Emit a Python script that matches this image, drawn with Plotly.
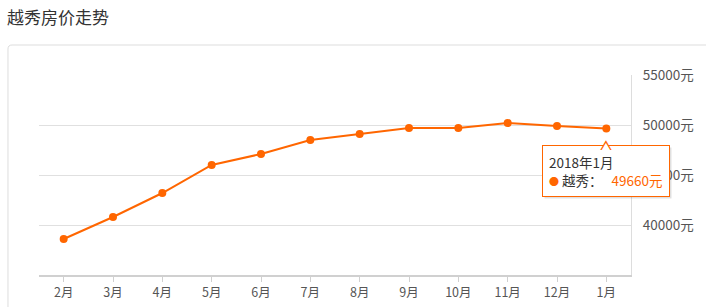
import plotly.graph_objects as go

months = ["2月", "3月", "4月", "5月", "6月", "7月", "8月", "9月", "10月", "11月", "12月", "1月"]
prices = [38600, 40800, 43200, 46000, 47100, 48500, 49100, 49700, 49700, 50200, 49900, 49660]
y_ticks = [40000, 45000, 50000, 55000]
y_tick_labels = ["40000元", "45000元", "50000元", "55000元"]
series_name = "越秀"
tip_title = "2018年1月"
title = "越秀房价走势"

ORANGE = "#ff6600"
FONT = "Noto Sans CJK SC, Microsoft YaHei, sans-serif"

fig = go.Figure()
fig.add_trace(go.Scatter(
    x=list(range(len(months))), y=prices, mode="lines+markers",
    line=dict(color=ORANGE, width=2), marker=dict(color=ORANGE, size=8),
    name=series_name, showlegend=False, hoverinfo="skip"))

# container box
fig.add_shape(type="path",
              path="M -0.0524,-0.4 L -0.0524,1.13 Q -0.0524,1.15 -0.0456,1.15 L 1.3,1.15",
              xref="paper", yref="paper", line=dict(color="#dddddd", width=1), layer="below")

last = len(months) - 1
tip_text = (f"{tip_title}<br><span style='color:{ORANGE};font-size:10px'>●</span> {series_name}："
            f"   <span style='color:{ORANGE}'>{prices[last]}元</span>")
# shadow
fig.add_annotation(
    x=last, y=prices[last], xref="x", yref="y", text=tip_text,
    showarrow=False, align="left", xanchor="center", yanchor="top", yshift=-19, xshift=2,
    bgcolor="rgba(0,0,0,0.12)", bordercolor="rgba(0,0,0,0)", borderwidth=1, borderpad=6,
    font=dict(family=FONT, size=13.5, color="rgba(0,0,0,0)"))
fig.add_annotation(
    x=last, y=prices[last], xref="x", yref="y", text=tip_text,
    showarrow=False, align="left", xanchor="center", yanchor="top", yshift=-17,
    bgcolor="white", bordercolor=ORANGE, borderwidth=1, borderpad=6,
    font=dict(family=FONT, size=13.5, color="#333333"))
fig.add_annotation(
    x=last, y=prices[last], xref="x", yref="y", text="▲", showarrow=False,
    yanchor="top", yshift=-7, font=dict(size=12, color=ORANGE))
fig.add_annotation(
    x=last, y=prices[last], xref="x", yref="y", text="▲", showarrow=False,
    yanchor="top", yshift=-9, font=dict(size=10, color="white"))

fig.update_layout(
    width=706, height=307,
    margin=dict(l=39, r=75, t=75, b=32, autoexpand=False),
    paper_bgcolor="white", plot_bgcolor="white",
    font=dict(family=FONT, size=12, color="#555555"),
    title=dict(text=title, xref="container", x=7 / 706, xanchor="left",
               yref="container", y=1 - 18 / 307, yanchor="middle",
               font=dict(family=FONT, size=17, color="#333333")),
)

fig.update_xaxes(
    range=[-0.5, len(months) - 0.5], tickmode="array",
    tickvals=list(range(len(months))), ticktext=months, automargin=False,
    showgrid=False, zeroline=False, showline=True, linecolor="#d0d0d0", linewidth=2,
    ticks="outside", ticklen=5, tickcolor="#d0d0d0", tickfont=dict(size=12.5, color="#555555"),
    fixedrange=True)
fig.update_yaxes(
    range=[35000, 55000], side="right", tickmode="array", automargin=False,
    tickvals=y_ticks, ticktext=y_tick_labels,
    showgrid=True, gridcolor="#e0e0e0", gridwidth=1, zeroline=False,
    showline=True, linecolor="#dddddd", linewidth=1, ticks="", ticklabelstandoff=8,
    tickfont=dict(size=13.5, color="#555555"), fixedrange=True)

fig.write_html("out.html")
